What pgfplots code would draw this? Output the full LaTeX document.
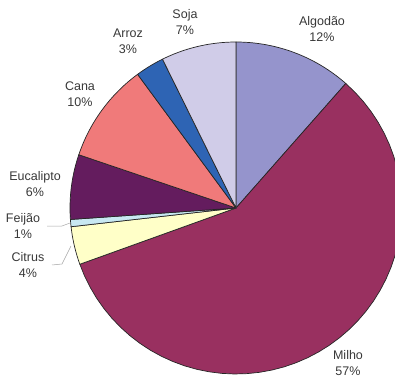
\documentclass[border=0pt]{standalone}
\usepackage{pgfplots}
\pgfplotsset{compat=1.18}
\usepackage{fontspec}
\setmainfont{Liberation Sans}

\definecolor{cAlgodao}{HTML}{9594CC}
\definecolor{cMilho}{HTML}{993060}
\definecolor{cCitrus}{HTML}{FFFFC8}
\definecolor{cFeijao}{HTML}{C8E8F2}
\definecolor{cEucalipto}{HTML}{641C5E}
\definecolor{cCana}{HTML}{F07A7A}
\definecolor{cArroz}{HTML}{2E64B4}
\definecolor{cSoja}{HTML}{D0CCE8}
\definecolor{labelgray}{HTML}{383838}

\tikzset{lbl/.style={font=\fontsize{12.5}{16}\selectfont, text=labelgray, align=center, inner sep=0pt}}

% slice: #1 = share before it (%), #2 = share (%), #3 = colour
% centre (236,172), radius 166, clockwise from 12 o'clock
\newcommand{\slice}[3]{%
  \filldraw[fill=#3, draw=black!85, line width=0.7pt, line join=round]
    (236,172) \foreach \t in {0,...,48}{
      -- ({236+166*cos(90-3.6*(#1+#2*\t/48))},{172+166*sin(90-3.6*(#1+#2*\t/48))})
    } -- cycle;}

\begin{document}
\begin{tikzpicture}
\begin{axis}[
  scale only axis, width=395pt, height=380pt,
  xmin=0, xmax=395, ymin=0, ymax=380,
  hide axis,
]
\path (0,0) rectangle (395,380);
% shares (percent)
\slice{0}{11.5}{cAlgodao}
\slice{11.5}{58.0}{cMilho}
\slice{69.5}{3.7}{cCitrus}
\slice{73.2}{0.7}{cFeijao}
\slice{73.9}{6.3}{cEucalipto}
\slice{80.2}{9.7}{cCana}
\slice{89.9}{2.8}{cArroz}
\slice{92.7}{7.3}{cSoja}

% leader lines
\draw[gray!70, line width=0.5pt] (47,154) -- (62,154) -- (70,157);
\draw[gray!70, line width=0.5pt] (52,115) -- (62,116) -- (71,134);

% labels
\node[lbl] at (322,351) {Algodão\\12\%};
\node[lbl] at (348,17) {Milho\\57\%};
\node[lbl] at (28,115) {Citrus\\4\%};
\node[lbl] at (23,154) {Feijão\\1\%};
\node[lbl] at (35,196) {Eucalipto\\6\%};
\node[lbl] at (80,286) {Cana\\10\%};
\node[lbl] at (128,339) {Arroz\\3\%};
\node[lbl] at (185,358) {Soja\\7\%};
\end{axis}
\end{tikzpicture}
\end{document}
